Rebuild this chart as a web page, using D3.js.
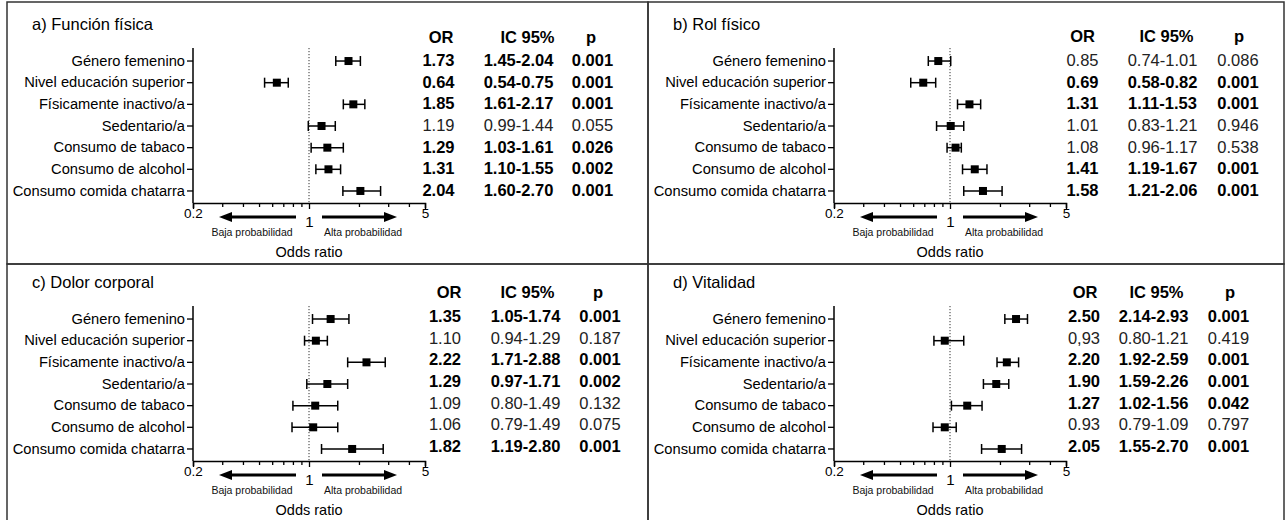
<!DOCTYPE html>
<html>
<head>
<meta charset="utf-8">
<script src="https://cdn.jsdelivr.net/npm/d3@7"></script>
<style>
  html, body { margin: 0; padding: 0; background: #fff; }
  svg { display: block; font-family: "Liberation Sans", Arial, sans-serif; }
</style>
</head>
<body>
<div id="chart"></div>
<script>
// categories shared by all four panels
const categories = [
  "Género femenino",
  "Nivel educación superior",
  "Físicamente inactivo/a",
  "Sedentario/a",
  "Consumo de tabaco",
  "Consumo de alcohol",
  "Consumo comida chatarra"
];

// a) Función física
const orFuncion = [1.73, 0.64, 1.85, 1.19, 1.29, 1.31, 2.04];
const loFuncion = [1.45, 0.54, 1.61, 0.99, 1.03, 1.10, 1.60];
const hiFuncion = [2.04, 0.75, 2.17, 1.44, 1.61, 1.55, 2.70];
const pFuncion = ["0.001", "0.001", "0.001", "0.055", "0.026", "0.002", "0.001"];
const sigFuncion = [1, 1, 1, 0, 1, 1, 1];

// b) Rol físico
const orRol = [0.85, 0.69, 1.31, 1.01, 1.08, 1.41, 1.58];
const loRol = [0.74, 0.58, 1.11, 0.83, 0.96, 1.19, 1.21];
const hiRol = [1.01, 0.82, 1.53, 1.21, 1.17, 1.67, 2.06];
const pRol = ["0.086", "0.001", "0.001", "0.946", "0.538", "0.001", "0.001"];
const sigRol = [0, 1, 1, 0, 0, 1, 1];

// c) Dolor corporal
const orDolor = [1.35, 1.10, 2.22, 1.29, 1.09, 1.06, 1.82];
const loDolor = [1.05, 0.94, 1.71, 0.97, 0.80, 0.79, 1.19];
const hiDolor = [1.74, 1.29, 2.88, 1.71, 1.49, 1.49, 2.80];
const pDolor = ["0.001", "0.187", "0.001", "0.002", "0.132", "0.075", "0.001"];
const sigDolor = [1, 0, 1, 1, 0, 0, 1];

// d) Vitalidad
const orVitalidad = [2.50, 0.93, 2.20, 1.90, 1.27, 0.93, 2.05];
const orTextVitalidad = ["2.50", "0,93", "2.20", "1.90", "1.27", "0.93", "2.05"]; // as printed
const loVitalidad = [2.14, 0.80, 1.92, 1.59, 1.02, 0.79, 1.55];
const hiVitalidad = [2.93, 1.21, 2.59, 2.26, 1.56, 1.09, 2.70];
const pVitalidad = ["0.001", "0.419", "0.001", "0.001", "0.042", "0.797", "0.001"];
const sigVitalidad = [1, 0, 1, 1, 1, 0, 1];

// x axis ticks (log scale)
const xTicks = [0.2, 0.3, 0.4, 0.5, 0.6, 0.7, 0.8, 0.9, 1, 2, 3, 4, 5];
const xTickLabels = [0.2, 1, 5];

const panels = [
  { title: "a) Función física", or: orFuncion, lo: loFuncion, hi: hiFuncion, p: pFuncion, sig: sigFuncion,
    x0: 7, y0: 0, cols: [431.5, 511.5, 585.5], hcols: [434, 520.5, 584], hy: 37, ty: -1 },
  { title: "b) Rol físico", or: orRol, lo: loRol, hi: hiRol, p: pRol, sig: sigRol,
    x0: 648, y0: 0, cols: [434.5, 514.5, 590], hcols: [434.5, 518.5, 591], hy: 36, ty: -1 },
  { title: "c) Dolor corporal", or: orDolor, lo: loDolor, hi: hiDolor, p: pDolor, sig: sigDolor,
    x0: 7, y0: 258, cols: [438, 518.5, 593], hcols: [442, 520.5, 591], hy: 34, ty: -3 },
  { title: "d) Vitalidad", or: orVitalidad, orText: orTextVitalidad, lo: loVitalidad, hi: hiVitalidad, p: pVitalidad, sig: sigVitalidad,
    x0: 648, y0: 258, cols: [436, 505.5, 580.5], hcols: [437, 508.5, 582], hy: 34, ty: -3 }
];

const width = 1286, height = 520;
const fmt = d3.format(".2f");

const svg = d3.select("#chart").append("svg")
  .attr("width", width)
  .attr("height", height);

// panel frames
[[7, 2, 641, 262], [648, 2, 636, 262], [7, 264, 641, 262], [648, 264, 636, 262]].forEach(([fx, fy, fw, fh]) => {
  svg.append("rect").attr("x", fx).attr("y", fy).attr("width", fw).attr("height", fh)
    .attr("fill", "none").attr("stroke", "#333").attr("stroke-width", 1.5);
});

panels.forEach(pn => {
  const g = svg.append("g").attr("transform", `translate(${pn.x0},${pn.y0})`);

  const x = d3.scaleLog().domain([0.2, 5]).range([186, 418]);
  const y = d3.scaleBand().domain(categories).range([50.2, 201.8]);
  const yc = d => y(d) + y.bandwidth() / 2;
  const axisTop = 48, axisBottom = 203;

  // title
  g.append("text")
    .attr("x", 25).attr("y", 30)
    .attr("font-size", 16.5)
    .attr("fill", "#000")
    .text(pn.title);

  // dotted reference line at OR = 1
  g.append("line")
    .attr("x1", x(1)).attr("x2", x(1))
    .attr("y1", axisTop).attr("y2", axisBottom)
    .attr("stroke", "#333").attr("stroke-width", 1)
    .attr("stroke-dasharray", "1.2,1.8");

  // y axis
  const yAxis = g.append("g")
    .attr("transform", `translate(${x.range()[0]},0)`)
    .call(d3.axisLeft(y).tickSize(6).tickSizeOuter(0).tickPadding(2));
  yAxis.select(".domain").remove();
  yAxis.selectAll(".tick line").attr("stroke", "#000").attr("stroke-width", 1.3);
  yAxis.selectAll(".tick text")
    .attr("font-size", 14.7)
    .attr("font-family", "Liberation Sans, Arial, sans-serif")
    .attr("fill", "#000");
  g.append("line")
    .attr("x1", x.range()[0]).attr("x2", x.range()[0])
    .attr("y1", axisTop).attr("y2", axisBottom)
    .attr("stroke", "#000").attr("stroke-width", 1.5);

  // x axis
  const xAxis = g.append("g")
    .attr("transform", `translate(0,${axisBottom})`)
    .call(d3.axisBottom(x).tickValues(xTicks).tickSizeOuter(0)
      .tickSize(5).tickFormat(d => xTickLabels.includes(d) ? d : ""));
  xAxis.select(".domain").attr("stroke", "#000").attr("stroke-width", 1.5);
  xAxis.selectAll(".tick line").attr("stroke", "#000").attr("stroke-width", 1.3)
    .attr("y2", d => xTickLabels.includes(d) ? 6 : 4);
  xAxis.selectAll(".tick text")
    .attr("font-size", d => d === 1 ? 15 : 13.5)
    .attr("font-family", "Liberation Sans, Arial, sans-serif")
    .attr("fill", "#000")
    .attr("dy", null)
    .attr("y", d => d === 1 ? 24 : 14.5);

  // direction arrows under the axis
  const ay = axisBottom + 14;
  const cx = x(1);
  [[-13, -90], [13, 88]].forEach(([s, t]) => {
    const dir = Math.sign(t);
    const head = 13;
    g.append("line")
      .attr("x1", cx + s).attr("x2", cx + t - dir * head)
      .attr("y1", ay).attr("y2", ay)
      .attr("stroke", "#000").attr("stroke-width", 3);
    g.append("path")
      .attr("d", `M${cx + t},${ay} L${cx + t - dir * head},${ay - 5} L${cx + t - dir * head},${ay + 5} Z`)
      .attr("fill", "#000");
  });
  g.append("text")
    .attr("x", cx - 57).attr("y", axisBottom + 33)
    .attr("text-anchor", "middle").attr("font-size", 10.5).attr("fill", "#111")
    .text("Baja probabilidad");
  g.append("text")
    .attr("x", cx + 54).attr("y", axisBottom + 33)
    .attr("text-anchor", "middle").attr("font-size", 10.5).attr("fill", "#111")
    .text("Alta probabilidad");
  g.append("text")
    .attr("x", cx).attr("y", axisBottom + 54)
    .attr("text-anchor", "middle").attr("font-size", 14.5).attr("fill", "#000")
    .text("Odds ratio");

  // error bars and markers
  const rows = categories.map((c, i) => ({
    cat: c, or: pn.or[i], lo: pn.lo[i], hi: pn.hi[i], p: pn.p[i], sig: pn.sig[i],
    orText: pn.orText ? pn.orText[i] : fmt(pn.or[i])
  }));

  const marks = g.selectAll("g.row").data(rows).enter().append("g").attr("class", "row");
  marks.append("line")
    .attr("x1", d => x(d.lo)).attr("x2", d => x(d.hi))
    .attr("y1", d => yc(d.cat)).attr("y2", d => yc(d.cat))
    .attr("stroke", "#000").attr("stroke-width", 1.5);
  marks.append("line")
    .attr("x1", d => x(d.lo)).attr("x2", d => x(d.lo))
    .attr("y1", d => yc(d.cat) - 5).attr("y2", d => yc(d.cat) + 5)
    .attr("stroke", "#000").attr("stroke-width", 1.5);
  marks.append("line")
    .attr("x1", d => x(d.hi)).attr("x2", d => x(d.hi))
    .attr("y1", d => yc(d.cat) - 5).attr("y2", d => yc(d.cat) + 5)
    .attr("stroke", "#000").attr("stroke-width", 1.5);
  marks.append("rect")
    .attr("x", d => x(d.or) - 4).attr("y", d => yc(d.cat) - 4)
    .attr("width", 8).attr("height", 8)
    .attr("fill", "#000");

  // table headers
  ["OR", "IC 95%", "p"].forEach((h, k) => {
    g.append("text")
      .attr("x", pn.hcols[k]).attr("y", pn.hy + 6)
      .attr("text-anchor", "middle")
      .attr("font-size", 16.5).attr("font-weight", "bold").attr("fill", "#000")
      .text(h);
  });

  // table values
  rows.forEach(d => {
    const vals = [d.orText, fmt(d.lo) + "-" + fmt(d.hi), d.p];
    vals.forEach((v, k) => {
      g.append("text")
        .attr("x", pn.cols[k]).attr("y", yc(d.cat) + pn.ty + 6)
        .attr("text-anchor", "middle")
        .attr("font-size", 16.5)
        .attr("font-weight", d.sig ? "bold" : "normal")
        .attr("fill", d.sig ? "#000" : "#222")
        .text(v);
    });
  });
});
</script>
</body>
</html>
